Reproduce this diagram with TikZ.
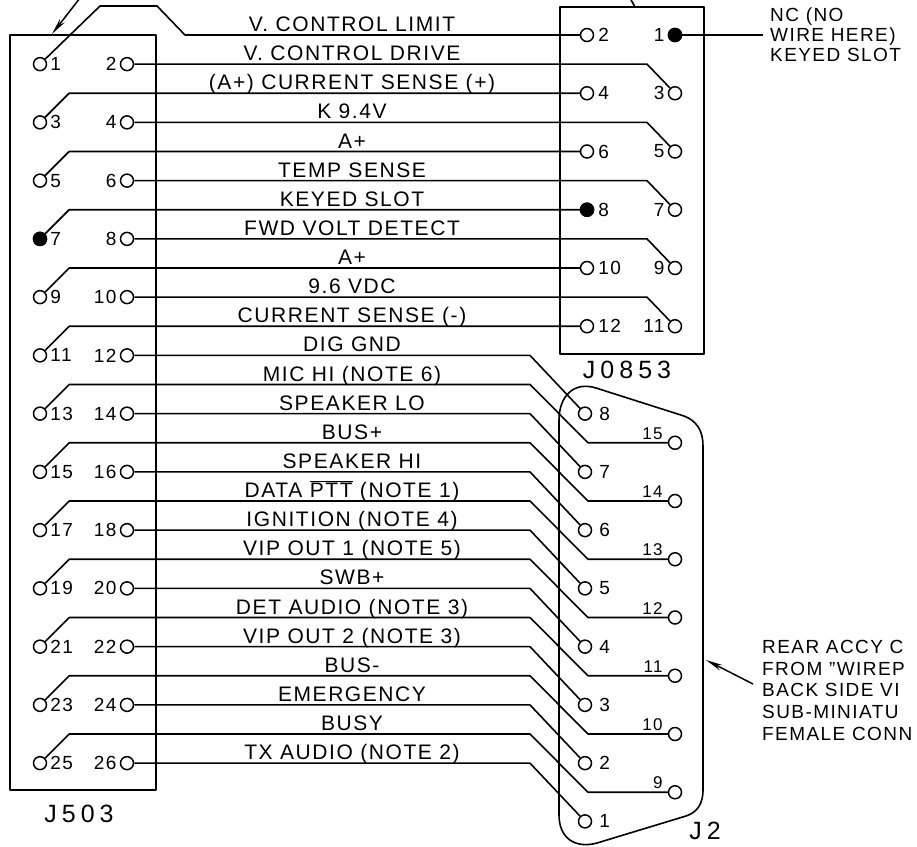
\documentclass[tikz,border=0pt]{standalone}
\usepackage{fontspec}
\setmainfont{Liberation Sans}[LetterSpace=7.5]
\newfontfamily\connfont{Liberation Sans}[LetterSpace=20]
\usetikzlibrary{arrows.meta}

\tikzset{
  wire/.style={line width=1.6pt, line join=round},
  frame/.style={line width=1.6pt, line join=round},
  pin/.style={circle, draw, line width=1.5pt, minimum size=13pt, inner sep=0pt},
  keyed/.style={pin, fill},
  num/.style={font=\fontsize{19}{19}\selectfont, inner sep=0pt},
  smallnum/.style={font=\fontsize{17}{17}\selectfont, inner sep=0pt},
  sig/.style={font=\fontsize{21}{21}\selectfont, anchor=base, inner sep=0pt},
  note/.style={font=\fontsize{19}{21.75}\selectfont, align=left, inner sep=0pt},
  conn/.style={font=\connfont\fontsize{25}{25}\selectfont, inner sep=0pt},
  lead/.style={line width=1.5pt, -{Stealth[length=17pt, width=6pt]}}
}

\begin{document}
\begin{tikzpicture}[x=1pt, y=-1pt]
\useasboundingbox (0,0) rectangle (917,846);
% connector bodies
\draw[frame] (10,35) rectangle (156,790);
\draw[frame] (560,7) rectangle (704,354);
\draw[frame] (559,815) -- (559,420) .. controls (559,396) and (574,381) .. (596,388)
  -- (684,416) .. controls (697,421) and (703,431) .. (703,446) -- (703,790)
  .. controls (703,803) and (698,812) .. (686,816) -- (597,843)
  .. controls (575,849) and (559,838) .. (559,815);

% J503 pins
\foreach \k [evaluate=\k as \y using {64.125+58.25*(\k-1)},
             evaluate=\k as \o using {int(2*\k-1)},
             evaluate=\k as \e using {int(2*\k)}] in {1,...,13}{
  \node[pin, label={[num, label distance=3pt]east:\o}] (a\o) at (40,\y) {};
  \node[pin, label={[num, label distance=3pt]west:\e}] (a\e) at (127,\y) {};
};
\node[keyed] (k7) at (a7) {};

% J0853 pins
\foreach \m [evaluate=\m as \y using {35+58.25*\m},
             evaluate=\m as \o using {int(2*\m+1)},
             evaluate=\m as \e using {int(2*\m+2)}] in {0,...,5}{
  \node[pin, label={[num, label distance=3pt]west:\o}] (b\o) at (675,\y) {};
  \node[pin, label={[num, label distance=4pt]east:\e}] (b\e) at (587,\y) {};
};
\node[keyed] (k1) at (b1) {};
\node[keyed] (k8) at (b8) {};

% J2 pins
\foreach \j [evaluate=\j as \y using {35+29.125*(29-2*\j)}] in {1,...,8}
  \node[pin, label={[num, label distance=7pt]east:\j}] (d\j) at (585,\y) {};
\foreach \j [evaluate=\j as \y using {35+29.125*(44-2*\j)}] in {9,...,15}
  \node[pin, label={[smallnum, anchor=south east, xshift=-5pt, yshift=3pt]west:\j}] (d\j) at (675,\y) {};

% wires
\draw[wire] (a1) -- (100,6) -- (157,6) -- (185,35) -- (b2);
\foreach \n [evaluate=\n as \t using {int(\n+1)}] in {3,5,...,11}
  \draw[wire] (a\n) -- ++(29.125,-29.125) -- (b\t);
\foreach \n [evaluate=\n as \y using {35+29.125*(\n-1)},
             evaluate=\n as \t using {int(\n+1)}] in {2,4,...,10}
  \draw[wire] (a\n) -- (647,\y) -- (b\t);
\foreach \n [evaluate=\n as \y using {35+29.125*(\n-1)},
             evaluate=\n as \t using {int((28-\n)/2)}] in {12,14,...,26}
  \draw[wire] (a\n) -- (530,\y) -- (d\t);
\foreach \n [evaluate=\n as \y using {35+29.125*(\n-1)},
             evaluate=\n as \t using {int((43-\n)/2)}] in {13,15,...,25}
  \draw[wire] (a\n) -- ++(29.125,-29.125) -- (530,\y) -- (588,\y+58.25) -- (d\t);

% signal names
\foreach \n/\txt in {1/{V. CONTROL LIMIT}, 2/{V. CONTROL DRIVE},
    3/{(A+) CURRENT SENSE (+)}, 4/{K 9.4V}, 5/{A+}, 6/{TEMP SENSE},
    7/{KEYED SLOT}, 8/{FWD VOLT DETECT}, 9/{A+}, 10/{9.6 VDC},
    11/{CURRENT SENSE (-)}, 12/{DIG GND}, 13/{MIC HI (NOTE 6)},
    14/{SPEAKER LO}, 15/{BUS+}, 16/{SPEAKER HI},
    17/{DATA $\overline{\mbox{PTT}}$ (NOTE 1)}, 18/{IGNITION (NOTE 4)},
    19/{VIP OUT 1 (NOTE 5)}, 20/{SWB+}, 21/{DET AUDIO (NOTE 3)},
    22/{VIP OUT 2 (NOTE 3)}, 23/{BUS-}, 24/{EMERGENCY}, 25/{BUSY},
    26/{TX AUDIO (NOTE 2)}}
  \node[sig] (s\n) at (352,{35+29.125*(\n-1)-3.5}) {\txt};

% notes
\node[note, font=\fontsize{19}{20}\selectfont, anchor=west, inner xsep=7pt] (nc) at (763,35)
  {NC (NO\\WIRE HERE)\\KEYED SLOT};
\draw[wire] (k1) -- (nc);
\node[note, anchor=north west] (rear) at (762,640)
  {REAR ACCY C\\FROM \char34 WIREP\\BACK SIDE VI\\SUB-MINIATU\\FEMALE CONN};
\coordinate (rt) at (753,684);
\coordinate (rh) at (706,660);
\draw[lead] (rt) -- (rh);
\coordinate (tl) at (80,-2);
\coordinate (tlh) at (52,34);
\draw[lead] (tl) -- (tlh);
\coordinate (tr) at (630,-2);
\coordinate (trh) at (635,7);
\draw[wire] (tr) -- (trh);

% connector names
\node[conn] (n503) at (79,814) {J503};
\node[conn] (n853) at (627,370) {J0853};
\node[conn] (n2) at (705,831) {J2};
\end{tikzpicture}
\end{document}
